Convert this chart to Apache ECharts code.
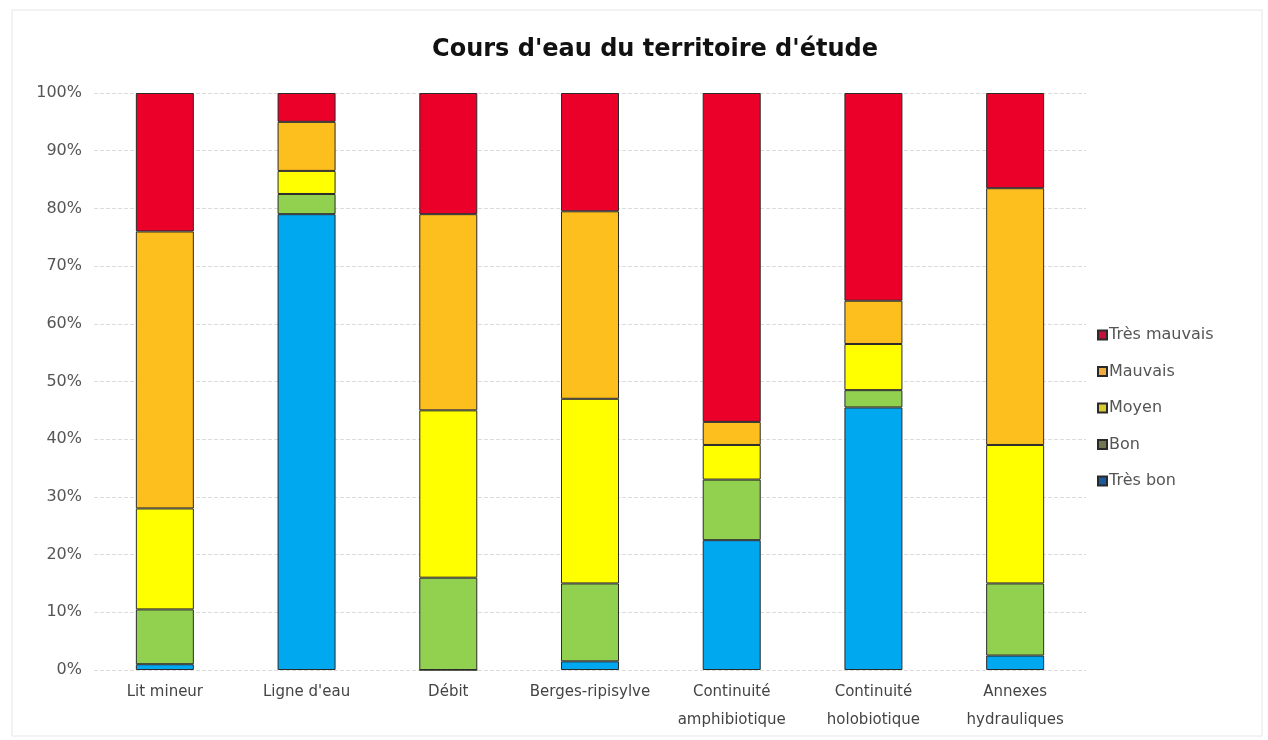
<!DOCTYPE html>
<html>
<head>
<meta charset="utf-8">
<script src="https://cdn.jsdelivr.net/npm/echarts@6/dist/echarts.min.js"></script>
<style>
html,body{margin:0;padding:0;background:#fff;}
#chart{width:1268px;height:740px;}
</style>
</head>
<body>
<div id="chart"></div>
<script>
const categories = ["Lit mineur", "Ligne d'eau", "Débit", "Berges-ripisylve", "Continuité\namphibiotique", "Continuité\nholobiotique", "Annexes\nhydrauliques"];
const tresBon     = [1,   79,  0,  1.5, 22.5, 45.5, 2.5];
const bon         = [9.5, 3.5, 16, 13.5, 10.5, 3,   12.5];
const moyen       = [17.5, 4,  29, 32,   6,    8,   24];
const mauvais     = [48,  8.5, 34, 32.5, 4,    7.5, 44.5];
const tresMauvais = [24,  5,   21, 20.5, 57,   36,  16.5];
const seriesNames = ["Très bon", "Bon", "Moyen", "Mauvais", "Très mauvais"];
const seriesColors = ["#00a8f0", "#92d050", "#ffff00", "#fdbf1d", "#ea0028"];
const legendColors = ["#1a5a9a", "#707850", "#d8cc30", "#f0ac40", "#c4103a"];
const seriesData = [tresBon, bon, moyen, mauvais, tresMauvais];

const FONT = 'DejaVu Sans, Verdana, sans-serif';
const chart = echarts.init(document.getElementById('chart'));
chart.setOption({
  backgroundColor: '#ffffff',
  animation: false,
  title: {
    text: "Cours d'eau du territoire d'étude",
    left: 650,
    textAlign: 'center',
    top: 33,
    textStyle: {fontFamily: FONT, fontWeight: 'bold', fontSize: 24, color: '#111'}
  },
  graphic: [{
    type: 'rect', shape: {x: 12, y: 10, width: 1250, height: 726},
    style: {fill: 'none', stroke: '#e6e6e6', lineWidth: 1}, silent: true
  }],
  legend: {
    orient: 'vertical',
    left: 1092,
    top: 322,
    itemWidth: 9,
    itemHeight: 9,
    itemGap: 20.5,
    icon: 'rect',
    data: seriesNames.slice().reverse().map((n) => ({name: n, itemStyle: {color: legendColors[seriesNames.indexOf(n)]}})),
    textStyle: {fontFamily: FONT, fontSize: 16, color: '#555', padding: [0, 0, 0, -3]}
  },
  grid: {left: 94, right: 182, top: 93, bottom: 70, containLabel: false},
  xAxis: {
    type: 'category',
    data: categories,
    axisLine: {show: false},
    axisTick: {show: false},
    axisLabel: {fontFamily: FONT, fontSize: 15, color: '#444', margin: 8, lineHeight: 28, interval: 0}
  },
  yAxis: {
    type: 'value',
    min: 0, max: 100, interval: 10,
    axisLine: {show: false},
    axisTick: {show: false},
    axisLabel: {formatter: '{value}%', fontFamily: FONT, fontSize: 16, color: '#555', margin: 12},
    splitLine: {show: true, lineStyle: {color: '#dcdcdc', type: 'dashed', width: 1}}
  },
  series: seriesNames.map((name, i) => ({
    name: name,
    type: 'bar',
    stack: 'total',
    data: seriesData[i],
    barWidth: 58,
    itemStyle: {color: seriesColors[i], borderColor: '#2a2a2a', borderWidth: 1}
  }))
});
</script>
</body>
</html>
